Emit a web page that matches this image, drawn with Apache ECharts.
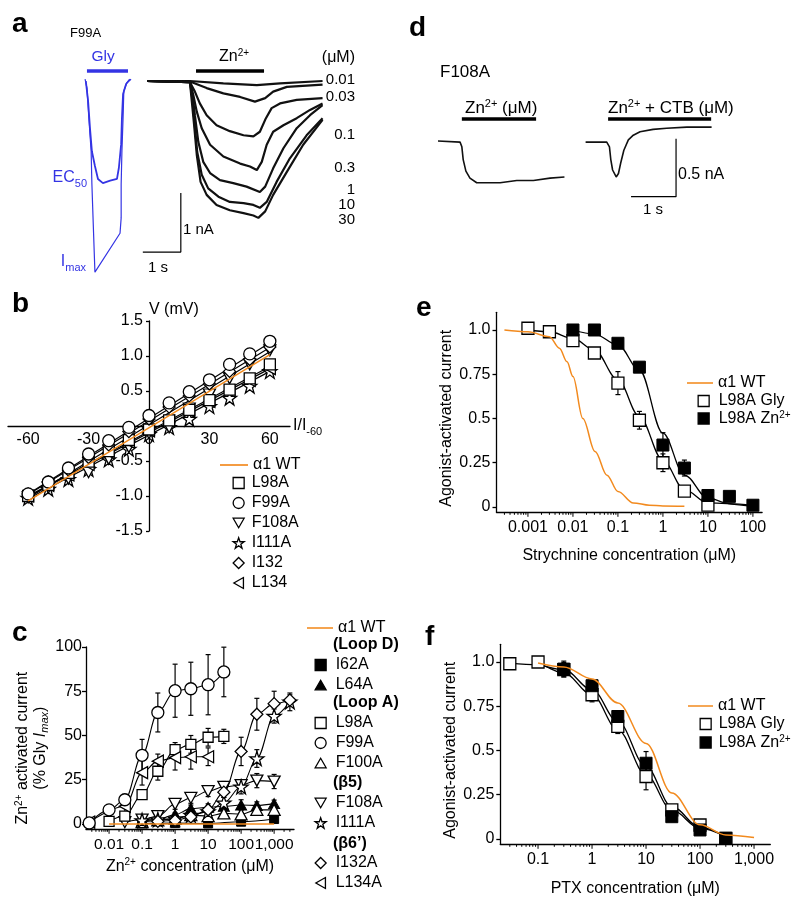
<!DOCTYPE html>
<html>
<head>
<meta charset="utf-8">
<script src="https://cdn.jsdelivr.net/npm/echarts@6/dist/echarts.min.js"></script>
<style>
html,body{margin:0;padding:0;background:#fff;}
#chart{width:800px;height:905px;}
</style>
</head>
<body>
<div id="chart"></div>
<script>
// ================= DATA =================
// ---- Panel a: F99A current traces (time s, current nA) ----
const aImaxT = [-1.63,-1.58,-1.53,-1.47,-1.45,-1.42,-1.39,-1.37,-0.71,-0.68,-0.68,-0.66,-0.63,-0.61,-0.53,-0.42];
const aImaxI = [0.03,-0.12,-0.63,-1.19,-1.75,-2.32,-2.88,-3.24,-2.58,-2.32,-1.75,-1.19,-0.63,-0.17,-0.03,0.03];
const aEC50T = [-1.61,-1.55,-1.50,-1.45,-1.37,-1.29,-1.16,-0.97,-0.79,-0.74,-0.68,-0.66,-0.63,-0.55,-0.45];
const aEC50I = [0,-0.34,-0.80,-1.19,-1.44,-1.66,-1.73,-1.69,-1.66,-1.47,-1.07,-0.63,-0.22,-0.05,0.03];
const aZnConc = ['0.01','0.03','0.1','0.3','1','10','30'];
const aT001 = [0,1.13,2.01,2.89,3.50,4.62];
const aI001 = [0,0,-0.04,-0.07,-0.04,0];
const aT003 = [0,1.13,1.57,2.01,2.45,2.84,3.11,3.32,3.68,4.62];
const aI003 = [0,-0.01,-0.12,-0.21,-0.27,-0.35,-0.29,-0.18,-0.10,-0.06];
const aT01 = [0,1.13,1.26,1.39,1.57,1.83,2.18,2.54,2.80,2.97,3.13,3.28,3.50,3.94,4.62];
const aI01 = [0,-0.02,-0.18,-0.38,-0.58,-0.75,-0.85,-0.92,-0.94,-0.86,-0.63,-0.46,-0.38,-0.32,-0.29];
const aT03 = [0,1.13,1.22,1.31,1.44,1.66,2.01,2.45,2.71,2.89,3.02,3.15,3.32,3.59,3.94,4.29,4.62];
const aI03 = [0,-0.02,-0.24,-0.52,-0.80,-1.08,-1.28,-1.40,-1.45,-1.51,-1.37,-1.08,-0.86,-0.75,-0.63,-0.49,-0.38];
const aT1 = [0,1.13,1.20,1.26,1.35,1.48,1.66,1.92,2.27,2.62,2.97,3.11,3.32,3.59,3.94,4.29,4.62];
const aI1 = [0,-0.02,-0.24,-0.58,-1.03,-1.37,-1.56,-1.68,-1.73,-1.79,-1.88,-1.79,-1.48,-1.14,-0.80,-0.58,-0.41];
const aT10 = [0,1.13,1.19,1.25,1.32,1.44,1.61,1.88,2.18,2.54,2.80,2.97,3.15,3.41,3.76,4.20,4.62];
const aI10 = [0,-0.02,-0.29,-0.69,-1.20,-1.59,-1.82,-1.96,-2.05,-2.07,-2.10,-2.15,-2.05,-1.71,-1.31,-0.92,-0.63];
const aT30 = [0,1.13,1.18,1.24,1.31,1.41,1.57,1.83,2.18,2.54,2.80,2.93,3.11,3.32,3.68,4.11,4.62];
const aI30 = [0,-0.02,-0.35,-0.75,-1.25,-1.71,-1.93,-2.10,-2.19,-2.24,-2.28,-2.32,-2.21,-1.93,-1.54,-1.08,-0.66];
const aGlyBarT = [-1.58,-0.50];
const aZnBarT = [1.29,3.08];
const aBarI = 0.17;
const aScaleT = [-0.11,0.89,0.89];   // 1 s
const aScaleI = [-2.90,-2.90,-1.90]; // 1 nA

// ---- Panel d: F108A traces ----
const dT1 = [0,0.49,0.53,0.56,0.62,0.71,0.86,1.08,1.38,1.75,2.12,2.49,2.81];
const dI1 = [0,-0.01,-0.05,-0.16,-0.26,-0.32,-0.36,-0.36,-0.36,-0.34,-0.34,-0.32,-0.31];
const dT2 = [3.28,3.75,3.81,3.84,3.88,3.96,4.01,4.06,4.13,4.23,4.34,4.49,4.78,5.08,5.53,6.08];
const dI2 = [-0.01,-0.01,-0.05,-0.16,-0.25,-0.31,-0.28,-0.19,-0.08,0.01,0.05,0.08,0.10,0.11,0.12,0.12];
const dZnBarT = [0.53,2.18];
const dCtbBarT = [3.78,6.07];
const dBarI = 0.19;
const dScaleT = [4.29,5.29,5.29];    // 1 s
const dScaleI = [-0.48,-0.48,0.02];  // 0.5 nA

// ---- Panel b: I-V relations ----
const bX = [-60,-50,-40,-30,-20,-10,0,10,20,30,40,50,60];
const bL98A = [-1.00,-0.84,-0.67,-0.51,-0.36,-0.20,-0.05,0.08,0.23,0.37,0.52,0.68,0.88];
const bF99A = [-0.97,-0.80,-0.60,-0.40,-0.21,-0.02,0.15,0.33,0.49,0.66,0.88,1.03,1.21];
const bF108A = [-1.02,-0.88,-0.75,-0.66,-0.47,-0.30,-0.10,-0.02,0.25,0.45,0.68,0.88,1.08];
const bI111A = [-1.03,-0.90,-0.76,-0.62,-0.48,-0.33,-0.12,-0.02,0.10,0.28,0.40,0.57,0.78];
const bI132 = [-0.97,-0.80,-0.63,-0.45,-0.27,-0.08,0.10,0.27,0.43,0.60,0.78,0.95,1.13];
const bL134 = [-1.00,-0.85,-0.70,-0.55,-0.38,-0.23,-0.07,0.07,0.21,0.35,0.50,0.65,0.82];
const bFitX = [-60,60];
const bWTFit = [-1.07,1.02];
const bL98AFit = [-1.00,0.85];
const bF99AFit = [-0.97,1.19];
const bF108AFit = [-1.03,1.06];
const bI111AFit = [-1.04,0.78];
const bI132Fit = [-0.98,1.12];
const bL134Fit = [-1.01,0.82];
const bXTicks = [-60,-30,0,30,60];
const bYTicks = [-1.5,-1,-0.5,0.5,1,1.5];

// ---- Panel c: Zn2+ concentration-response (% Gly Imax) ----
const cWTX = [0.01,1000];
const cWTY = [0,0];
const cI62AX = [0.1,1,10,100,1000];
const cI62AY = [0.3,0.5,0.3,1.3,2.8];
const cL64AX = [0.1,0.3,1,3,10,30,100,300,1000];
const cL64AY = [1.5,2.5,5.3,8.7,9.4,10,10.7,10.5,11.5];
const cL64AE = [0,0,1,2,2,2,3,2,2];
const cL98AX = [0.01,0.03,0.1,0.3,1,3,10,30];
const cL98AY = [1.5,4.5,16.6,29.8,42,45,49,49.5];
const cL98AE = [0,1,2,5,4,5,5,4];
const cF99AX = [0.0025,0.01,0.03,0.1,0.3,1,3,10,30];
const cF99AY = [0.6,8,13.7,38.8,63,75.3,76.4,78.7,85.9];
const cF99AE = [0,1.5,3,9,11,15,15,17,14];
const cF100AX = [0.1,0.3,1,3,10,30,100,300,1000];
const cF100AY = [1,2,3,5,4.5,6,5.5,8,8];
const cF100AE = [0,0,1,1,1,1,1,2,2];
const cF108AX = [0.03,0.1,0.3,1,3,10,30,100,300,1000];
const cF108AY = [1,2.5,4.5,11.3,14.7,18.5,21,22,24.5,24];
const cF108AE = [0,0,1,3,3,3,3,3,4,4];
const cI111AX = [0.1,0.3,1,3,10,30,100,300,1000,3000];
const cI111AY = [2,2.5,3,5,7,12,21,37,61,69];
const cI111AE = [0,0,0,1,2,3,4,5,4,5];
const cI132AX = [0.3,1,3,10,30,100,300,1000,3000];
const cI132AY = [1.5,2,4,8,18,41,62,68,70];
const cI132AE = [0,0,0,2,3,8,9,7,3];
const cL134AX = [0.0025,0.03,0.1,0.3,1,3,10];
const cL134AY = [1,10,29,35.5,37.5,38,38];
const cL134AE = [0,3,7,4,7,7,5];
const cYTicks = [0,25,50,75,100];

// ---- Panel e: strychnine inhibition ----
const eGlyX = [0.001,0.003,0.01,0.03,0.1,0.3,1,3,10];
const eGlyY = [1.01,0.99,0.94,0.87,0.70,0.49,0.25,0.09,0.01];
const eGlyE = [0,0,0.01,0.01,0.065,0.05,0.05,0.02,0];
const eZnX = [0.01,0.03,0.1,0.3,1,3,10,30,100];
const eZnY = [1.0,1.0,0.925,0.79,0.35,0.22,0.065,0.06,0.01];
const eZnE = [0,0,0.02,0.02,0.07,0.045,0.02,0,0];
const eGlyFitX = [0.001,0.003,0.01,0.03,0.1,0.3,1,3,10,100];
const eGlyFitY = [1.0,0.99,0.953,0.887,0.718,0.511,0.263,0.098,0.023,0.004];
const eZnFitX = [0.01,0.03,0.1,0.3,1,3,10,30,100];
const eZnFitY = [1.0,0.977,0.915,0.774,0.417,0.18,0.05,0.019,0.008];
const eWTX = [0.0003,0.001,0.003,0.005,0.0074,0.01,0.0166,0.031,0.057,0.1,0.22,0.5,1,3];
const eWTY = [1.0,0.99,0.962,0.897,0.82,0.737,0.5,0.314,0.18,0.088,0.023,0.01,0.006,0.004];
const efYTicks = [0,0.25,0.5,0.75,1];

// ---- Panel f: picrotoxin inhibition ----
const fGlyX = [0.03,0.1,0.3,1,3,10,30,100,300];
const fGlyY = [0.99,1.0,0.957,0.815,0.636,0.353,0.164,0.079,0.004];
const fGlyE = [0,0,0.04,0.04,0.04,0.075,0.01,0.01,0];
const fZnX = [0.3,1,3,10,30,100,300];
const fZnY = [0.96,0.866,0.692,0.428,0.126,0.051,0.004];
const fZnE = [0.045,0.02,0.03,0.066,0.01,0.01,0];
const fGlyFitX = [0.03,0.1,0.3,1,3,10,30,100,300];
const fGlyFitY = [0.994,0.985,0.938,0.815,0.617,0.362,0.164,0.06,0.013];
const fZnFitX = [0.1,0.3,1,3,10,30,100,300];
const fZnFitY = [0.99,0.957,0.843,0.664,0.409,0.183,0.066,0.013];
const fWTX = [0.1,0.3,1,3,10,30,100,300,1000];
const fWTY = [0.994,0.972,0.904,0.768,0.54,0.26,0.08,0.023,0.008];

// ================= STYLE / BUILD =================
const FONT = "'Liberation Sans', Arial, Helvetica, sans-serif";
const BLUE = '#3434e4';
const ORANGE = '#f28a1e';
const GA = 0, GD = 1, GB = 2, GC = 3, GE = 4, GF = 5;
const STAR = 'path://M50,0 L61.8,34.5 L97.6,34.5 L68.8,55.9 L79.4,90.5 L50,69.1 L20.6,90.5 L31.2,55.9 L2.4,34.5 L38.2,34.5 Z';
const DOWN = 'path://M0,0 L100,0 L50,87 Z';
const UP = 'path://M50,0 L100,87 L0,87 Z';
const LEFT = 'path://M87,0 L87,100 L0,50 Z';
const LINE_ICON = 'path://M0,0 L100,0 L100,6 L0,6 Z';
const OPEN = {color:'#fff', borderColor:'#000', borderWidth:1.3, opacity:1};
const FILL = {color:'#000', borderColor:'#000', borderWidth:1, opacity:1};
const AX = {color:'#000', width:1.3};

const zip = (xs, ys) => xs.map((x, i) => [x, ys[i]]);
const series = [];
function curve(g, xs, ys, color, width, smooth, z) {
  series.push({type:'line', xAxisIndex:g, yAxisIndex:g, data:zip(xs, ys), symbol:'none', silent:true,
    smooth: smooth ? 0.35 : false, smoothMonotone: smooth ? 'x' : undefined,
    lineStyle:{color, width}, itemStyle:{color}, z: z || 2});
}
function wt(g, name, xs, ys, smooth) {
  series.push({type:'line', name, xAxisIndex:g, yAxisIndex:g, data:zip(xs, ys), symbol:'none', silent:true,
    smooth: smooth ? 0.35 : false, smoothMonotone: smooth ? 'x' : undefined,
    lineStyle:{color:ORANGE, width:1.5}, itemStyle:{color:ORANGE}, z:6});
}
function marks(g, name, xs, ys, symbol, size, filled) {
  series.push({type:'scatter', name, xAxisIndex:g, yAxisIndex:g, data:zip(xs, ys), symbol, symbolSize:size,
    itemStyle: filled ? FILL : OPEN, z:4, silent:true});
}
function errs(g, xs, ys, es) {
  const data = xs.map((x, i) => [x, ys[i], es[i]]).filter(d => d[2] > 0);
  series.push({type:'custom', xAxisIndex:g, yAxisIndex:g, silent:true, z:3, data, encode:{x:0, y:1},
    renderItem(params, api) {
      const x = api.value(0), y = api.value(1), e = api.value(2);
      const t = api.coord([x, y + e]), b = api.coord([x, y - e]), c = 2.5;
      const st = {stroke:'#000', lineWidth:1.2};
      return {type:'group', children:[
        {type:'line', shape:{x1:t[0], y1:t[1], x2:b[0], y2:b[1]}, style:st},
        {type:'line', shape:{x1:t[0]-c, y1:t[1], x2:t[0]+c, y2:t[1]}, style:st},
        {type:'line', shape:{x1:b[0]-c, y1:b[1], x2:b[0]+c, y2:b[1]}, style:st}]};
    }});
}
function logTicks(g, lo, hi, ymin) {
  const data = [];
  for (let p = Math.floor(Math.log10(lo)); p <= Math.ceil(Math.log10(hi)); p++) {
    for (let m = 1; m <= 9; m++) {
      const v = m * Math.pow(10, p);
      if (v >= lo * 1.001 && v <= hi * 0.999) data.push([v, ymin, m === 1 ? 1 : 0]);
    }
  }
  series.push({type:'custom', xAxisIndex:g, yAxisIndex:g, silent:true, clip:false, z:5, data, encode:{x:0, y:1},
    renderItem(params, api) {
      const p = api.coord([api.value(0), api.value(1)]);
      const L = api.value(2) ? 4.5 : 2.5;
      return {type:'line', shape:{x1:p[0], y1:p[1], x2:p[0], y2:p[1] + L}, style:{stroke:'#000', lineWidth:1}};
    }});
}

// Panel a
curve(GA, aImaxT, aImaxI, BLUE, 1.2);
curve(GA, aEC50T, aEC50I, BLUE, 1.8);
curve(GA, aGlyBarT, [aBarI, aBarI], BLUE, 3.5);
curve(GA, aZnBarT, [aBarI, aBarI], '#000', 3.5);
[[aT001,aI001],[aT003,aI003],[aT01,aI01],[aT03,aI03],[aT1,aI1],[aT10,aI10],[aT30,aI30]]
  .forEach(tr => curve(GA, tr[0], tr[1], '#111', 2.2));
curve(GA, aScaleT, aScaleI, '#000', 1.2);
// Panel d
curve(GD, dT1, dI1, '#111', 1.6);
curve(GD, dT2, dI2, '#111', 1.6);
curve(GD, dZnBarT, [dBarI, dBarI], '#000', 3.5);
curve(GD, dCtbBarT, [dBarI, dBarI], '#000', 3.5);
curve(GD, dScaleT, dScaleI, '#000', 1.2);
// Panel b
curve(GB, bFitX, bL98AFit, '#000', 1.2);
curve(GB, bFitX, bF99AFit, '#000', 1.2);
curve(GB, bFitX, bF108AFit, '#000', 1.2);
curve(GB, bFitX, bI111AFit, '#000', 1.2);
curve(GB, bFitX, bI132Fit, '#000', 1.2);
curve(GB, bFitX, bL134Fit, '#000', 1.2);
marks(GB, 'I111A|b', bX, bI111A, STAR, 14);
marks(GB, 'F108A|b', bX, bF108A, DOWN, [12,11]);
marks(GB, 'L134|b', bX, bL134, LEFT, [11,12]);
marks(GB, 'L98A|b', bX, bL98A, 'rect', 11);
marks(GB, 'I132|b', bX, bI132, 'diamond', 12);
marks(GB, 'F99A|b', bX, bF99A, 'circle', 12);
wt(GB, 'α1 WT|b', bFitX, bWTFit);
// Panel c
const cSets = [
  ['I62A|c', cI62AX, cI62AY, null, 'rect', 9, true],
  ['L64A|c', cL64AX, cL64AY, cL64AE, UP, [11,10], true],
  ['F100A|c', cF100AX, cF100AY, cF100AE, UP, [12,11], false],
  ['F108A|c', cF108AX, cF108AY, cF108AE, DOWN, [12,11], false],
  ['I111A|c', cI111AX, cI111AY, cI111AE, STAR, 14, false],
  ['I132A|c', cI132AX, cI132AY, cI132AE, 'diamond', 12, false],
  ['L98A|c', cL98AX, cL98AY, cL98AE, 'rect', 10, false],
  ['L134A|c', cL134AX, cL134AY, cL134AE, LEFT, [11,12], false],
  ['F99A|c', cF99AX, cF99AY, cF99AE, 'circle', 12, false]
];
cSets.forEach(s => {
  curve(GC, s[1], s[2], '#000', 1.1, true);
  if (s[3]) errs(GC, s[1], s[2], s[3]);
  marks(GC, s[0], s[1], s[2], s[4], s[5], s[6]);
});
wt(GC, 'α1 WT|c', cWTX, cWTY);
logTicks(GC, 0.002, 4000, -3);
// Panel e
curve(GE, eGlyFitX, eGlyFitY, '#000', 1.3, true);
curve(GE, eZnFitX, eZnFitY, '#000', 1.3, true);
errs(GE, eGlyX, eGlyY, eGlyE);
errs(GE, eZnX, eZnY, eZnE);
marks(GE, 'L98A Gly|e', eGlyX, eGlyY, 'rect', 12, false);
marks(GE, 'L98A Zn2+|e', eZnX, eZnY, 'rect', 12, true);
wt(GE, 'α1 WT|e', eWTX, eWTY, true);
logTicks(GE, 0.0002, 160, -0.03);
// Panel f
curve(GF, fGlyFitX, fGlyFitY, '#000', 1.3, true);
curve(GF, fZnFitX, fZnFitY, '#000', 1.3, true);
errs(GF, fGlyX, fGlyY, fGlyE);
errs(GF, fZnX, fZnY, fZnE);
marks(GF, 'L98A Gly|f', fGlyX, fGlyY, 'rect', 12, false);
marks(GF, 'L98A Zn2+|f', fZnX, fZnY, 'rect', 12, true);
wt(GF, 'α1 WT|f', fWTX, fWTY, true);
logTicks(GF, 0.02, 2000, -0.03);

// ---- axes ----
const supRich = (size, color) => ({
  m:{fontSize:size, lineHeight:size + 2, fontFamily:FONT, fill:color, color},
  s:{fontSize:Math.round(size * 0.62), lineHeight:Math.round(size * 0.62), verticalAlign:'top', fontFamily:FONT, fill:color, color}});
const subRich = (size, color) => ({
  m:{fontSize:size, lineHeight:size + 6, fontFamily:FONT, fill:color, color},
  b:{fontSize:Math.round(size * 0.68), lineHeight:Math.round(size * 0.68), verticalAlign:'bottom', fontFamily:FONT, fill:color, color}});
const logFmt = v => {
  const r = Number(Number(v).toPrecision(3));
  return r >= 1000 ? String(r).replace(/\B(?=(\d{3})+(?!\d))/g, ',') : String(r);
};
const efFmt = v => v === 0 ? '0' : (v === 1 ? '1.0' : String(v));
function logX(g, min, max, name, gap, fs) {
  return {gridIndex:g, type:'log', logBase:10, min, max,
    axisLine:{show:true, onZero:false, lineStyle:AX},
    axisTick:{show:false}, minorTick:{show:false}, splitLine:{show:false}, minorSplitLine:{show:false},
    axisLabel:{show:true, fontSize:fs || 16, color:'#000', fontFamily:FONT, margin:7, showMinLabel:false, showMaxLabel:false, formatter:logFmt},
    name, nameLocation:'middle', nameGap:gap,
    nameTextStyle:{fontSize:16, color:'#000', fontFamily:FONT, lineHeight:16, rich:supRich(16, '#000')}};
}
function valY(g, min, max, ticks, fmt, name, gap, pad, margin) {
  return {gridIndex:g, type:'value', min, max,
    axisLine:{show:true, onZero:false, lineStyle:AX},
    axisTick:{show:true, customValues:ticks, length:4, lineStyle:AX},
    splitLine:{show:false},
    axisLabel:{customValues:ticks, formatter:fmt, fontSize:16, color:'#000', fontFamily:FONT, margin},
    name, nameLocation:'middle', nameGap:gap, nameRotate:90,
    nameTextStyle:{fontSize:16, color:'#000', fontFamily:FONT, lineHeight:17, padding:pad,
      rich:Object.assign(supRich(16, '#000'), {i:{fontSize:16, fontStyle:'italic', fontFamily:FONT, lineHeight:17},
        ib:{fontSize:11, fontStyle:'italic', fontFamily:FONT, lineHeight:11, verticalAlign:'bottom'}})}};
}
const hidden = (g, min, max) => ({gridIndex:g, type:'value', min, max, show:false, splitLine:{show:false}});

// Panel b axes cross at the origin: grid b spans x -70..70 (8..290 px) and y -1.5..1.5 (321..531 px);
// the axes are shifted onto the zero lines with an offset.
const xAxis = [
  hidden(GA, -2.3, 5.6),
  hidden(GD, -0.2, 6.3),
  {gridIndex:GB, type:'value', min:-70, max:70, position:'bottom', offset:-105,
    axisLine:{show:true, onZero:false, lineStyle:AX}, axisTick:{show:false}, splitLine:{show:false},
    axisLabel:{customValues:bXTicks, fontSize:16, color:'#000', fontFamily:FONT, margin:6},
    name:'{m|I/I}{b|-60}', nameLocation:'end', nameGap:3,
    nameTextStyle:{fontSize:16, color:'#000', rich:subRich(16, '#000')}},
  logX(GC, 0.002, 4000, '{m|Zn}{s|2+}{m| concentration (μM)}', 28, 15.5),
  logX(GE, 0.0002, 160, 'Strychnine concentration (μM)', 35),
  logX(GF, 0.02, 2000, 'PTX concentration (μM)', 36)
];
const yAxis = [
  hidden(GA, -3.4, 0.5),
  hidden(GD, -0.55, 0.3),
  {gridIndex:GB, type:'value', min:-1.5, max:1.5, position:'left', offset:-141,
    axisLine:{show:true, onZero:false, lineStyle:AX},
    axisTick:{show:true, customValues:bYTicks, length:3, lineStyle:AX}, splitLine:{show:false},
    axisLabel:{customValues:bYTicks, formatter:v => v.toFixed(1), fontSize:16, color:'#000', fontFamily:FONT, margin:6},
    name:'V (mV)', nameLocation:'end', nameGap:3,
    nameTextStyle:{fontSize:16, color:'#000', fontFamily:FONT, align:'left'}},
  valY(GC, -3, 100, cYTicks, v => String(v),
    '{m|Zn}{s|2+}{m| activated current}\n{m|(% Gly }{i|I}{ib|max}{m|)}', 36, [0, 20, 0, 0], 4),
  valY(GE, -0.03, 1.1, efYTicks, efFmt, 'Agonist-activated current', 41, [0, 12, 0, 0], 6),
  valY(GF, -0.03, 1.1, efYTicks, efFmt, 'Agonist-activated current', 39, [0, 12, 0, 0], 6)
];

// ---- legends ----
const legendText = (padLeft) => ({fontSize:16, color:'#000', fontFamily:FONT, lineHeight:16, padding:[0, 0, 0, padLeft || 0],
  rich:{s:{fontSize:10, lineHeight:10, verticalAlign:'top', fontFamily:FONT, color:'#000'}}});
const fmtName = n => n.split('|')[0].replace('Zn2+', 'Zn{s|2+}');
function legend(left, top, gap, w, items, isLine, padLeft) {
  return {orient:'vertical', left, top, itemGap:gap, itemWidth:w, itemHeight:11,
    padding:0, selectedMode:false, symbolKeepAspect:true, textStyle:legendText(padLeft), formatter:fmtName,
    itemStyle:{borderWidth:isLine ? 0 : 1.3}, data:items};
}
const legends = [
  legend(220, 457, 4, 28, [{name:'α1 WT|b', icon:LINE_ICON}], true),
  legend(232.5, 475, 4, 11, [{name:'L98A|b', icon:'rect'}, {name:'F99A|b', icon:'circle'}, {name:'F108A|b', icon:DOWN},
    {name:'I111A|b', icon:STAR}, {name:'I132|b', icon:'diamond'}, {name:'L134|b', icon:LEFT}], false, 2.5),
  legend(307, 620, 4, 26, [{name:'α1 WT|c', icon:LINE_ICON}], true),
  legend(314.5, 657, 4, 11, [{name:'I62A|c', icon:'rect'}, {name:'L64A|c', icon:UP}], false, 4.5),
  legend(314.5, 715, 4, 11, [{name:'L98A|c', icon:'rect'}, {name:'F99A|c', icon:'circle'}, {name:'F100A|c', icon:UP}], false, 4.5),
  legend(314.5, 795, 4, 11, [{name:'F108A|c', icon:DOWN}, {name:'I111A|c', icon:STAR}], false, 4.5),
  legend(314.5, 855, 4, 11, [{name:'I132A|c', icon:'diamond'}, {name:'L134A|c', icon:LEFT}], false, 4.5),
  legend(687, 375, 2, 26, [{name:'α1 WT|e', icon:LINE_ICON}], true),
  legend(697.5, 393, 1.5, 11, [{name:'L98A Gly|e', icon:'rect'}, {name:'L98A Zn2+|e', icon:'rect'}], false, 4.5),
  legend(688, 698, 2, 25, [{name:'α1 WT|f', icon:LINE_ICON}], true),
  legend(699.5, 716, 2.5, 11, [{name:'L98A Gly|f', icon:'rect'}, {name:'L98A Zn2+|f', icon:'rect'}], false, 2.5)
];

// ---- text annotations ----
function T(x, y, text, o) {
  o = o || {};
  const style = {text, fill:o.color || '#000', fontSize:o.size || 16, fontFamily:FONT,
    fontWeight:o.bold ? 'bold' : 'normal', align:o.align || 'left', verticalAlign:'middle'};
  if (o.rich) style.rich = o.rich;
  return {type:'text', x, y, silent:true, z:10, style};
}
const aConcY = [80, 97, 135, 168, 190, 205, 220];
const graphics = [
  T(12, 24, 'a', {size:28, bold:true}),
  T(70, 33, 'F99A', {size:13}),
  T(103, 57, 'Gly', {size:15.5, color:BLUE, align:'center'}),
  T(87, 178, '{m|EC}{b|50}', {color:BLUE, align:'right', rich:subRich(16, BLUE)}),
  T(86, 262, '{m|I}{b|max}', {color:BLUE, align:'right', rich:subRich(16, BLUE)}),
  T(234, 57, '{m|Zn}{s|2+}', {align:'center', rich:supRich(16, '#000')}),
  T(355, 58, '(μM)', {align:'right', size:16}),
  T(183, 230, '1 nA', {size:15}),
  T(158, 268, '1 s', {size:15, align:'center'}),
  T(409, 28, 'd', {size:28, bold:true}),
  T(440, 72, 'F108A', {size:17}),
  T(465, 108, '{m|Zn}{s|2+}{m| (μM)}', {rich:supRich(17, '#000')}),
  T(608, 108, '{m|Zn}{s|2+}{m| + CTB (μM)}', {rich:supRich(17, '#000')}),
  T(678, 175, '0.5 nA', {size:16}),
  T(653, 210, '1 s', {size:15, align:'center'}),
  T(12, 304, 'b', {size:28, bold:true}),
  T(12, 633, 'c', {size:28, bold:true}),
  T(416, 308, 'e', {size:28, bold:true}),
  T(425, 637, 'f', {size:28, bold:true}),
  T(333, 645, '(Loop D)', {bold:true}),
  T(333, 703, '(Loop A)', {bold:true}),
  T(333, 783, '(β5)', {bold:true}),
  T(333, 844, '(β6’)', {bold:true})
].concat(aZnConc.map((c, i) => T(355, aConcY[i], c, {align:'right', size:15})));

const grids = [
  {left:59.6, top:51.5, width:300.2, height:230.1},
  {left:429, top:106.2, width:292.5, height:98.6},
  {left:8, top:321, width:282, height:210},
  {left:86, top:647, width:208, height:182.3},
  {left:496.5, top:312.3, width:265.6, height:200},
  {left:500.3, top:644.3, width:270, height:200}
].map(g => Object.assign({containLabel:false, outerBoundsMode:'none', show:false}, g));

const option = {
  animation:false,
  backgroundColor:'#ffffff',
  textStyle:{fontFamily:FONT, color:'#000'},
  grid:grids,
  xAxis, yAxis,
  legend:legends,
  graphic:{elements:graphics},
  series
};
const chart = echarts.init(document.getElementById('chart'), null, {renderer:'canvas', width:800, height:905});
chart.setOption(option);
</script>
</body>
</html>
